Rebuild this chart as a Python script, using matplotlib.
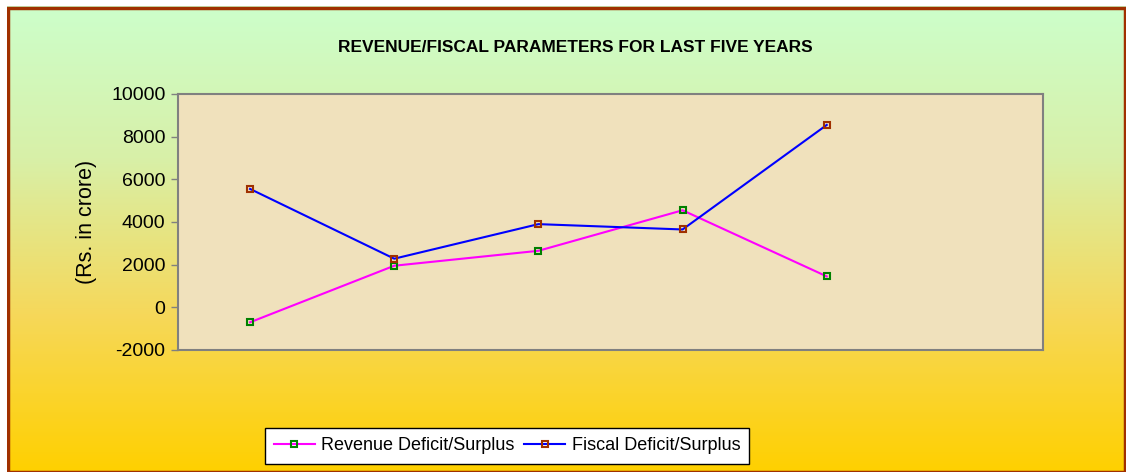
import matplotlib
matplotlib.use("Agg")
import matplotlib.pyplot as plt
import numpy as np
from matplotlib.colors import LinearSegmentedColormap
from matplotlib.patches import Rectangle

# Daten
jahre = ["", "", "", "", "", ""]
revenue = [-700, 1950, 2650, 4550, 1450]
fiscal = [5550, 2280, 3900, 3650, 8550]
y_ticks = [-2000, 0, 2000, 4000, 6000, 8000, 10000]

plt.rcParams['font.family'] = ['Liberation Sans', 'DejaVu Sans']

fig = plt.figure(figsize=(11.3, 4.72), dpi=100)

# Hintergrund mit Verlauf (gruen -> gelb)
bg = fig.add_axes([0, 0, 1, 1], zorder=-10)
verlauf = LinearSegmentedColormap.from_list("v", ["#CCFFCC", "#D8F0A8", "#F6D85A", "#FFD000"])
bg.imshow(np.linspace(0, 1, 256).reshape(-1, 1), aspect='auto', cmap=verlauf,
          extent=[0, 1, 0, 1], origin='upper')
bg.set_xlim(0, 1)
bg.set_ylim(0, 1)
bg.axis('off')
fig.patches.append(Rectangle((8 / 1130, 0.0), 1 - 13 / 1130, 1 - 8 / 472,
                             transform=fig.transFigure, fill=False,
                             edgecolor='#A03000', linewidth=2.5))
# weisser Rand oben/links/rechts
fig.patches.append(Rectangle((0, 0), 7 / 1130, 1, transform=fig.transFigure,
                             facecolor='white', edgecolor='none', zorder=5))
fig.patches.append(Rectangle((0, 1 - 6 / 472), 1, 6 / 472, transform=fig.transFigure,
                             facecolor='white', edgecolor='none', zorder=5))
fig.patches.append(Rectangle((1 - 4 / 1130, 0), 4 / 1130, 1, transform=fig.transFigure,
                             facecolor='white', edgecolor='none', zorder=5))

ax = fig.add_axes([178 / 1130, 1 - 350 / 472, (1043 - 178) / 1130, (350 - 94) / 472])
ax.set_facecolor('#F0E1BC')

x = np.arange(len(revenue))
ax.plot(x, revenue, color='#FF00FF', linewidth=1.5, marker='s', markersize=5,
        markerfacecolor='none', markeredgecolor='#008000', markeredgewidth=1.5,
        label='Revenue Deficit/Surplus')
ax.plot(x, fiscal, color='#0000FF', linewidth=1.5, marker='s', markersize=5,
        markerfacecolor='none', markeredgecolor='#A03000', markeredgewidth=1.5,
        label='Fiscal Deficit/Surplus')

ax.set_xlim(-0.5, len(jahre) - 0.5)
ax.set_ylim(-2000, 10000)
ax.set_yticks(y_ticks)
ax.set_yticklabels([str(t) for t in y_ticks], fontsize=14)
ax.set_xticks([])
ax.tick_params(axis='y', length=5, color='#808080', width=1, pad=4)
for s in ax.spines.values():
    s.set_color('#808080')
    s.set_linewidth(1.5)

ax.set_ylabel('(Rs. in crore)', fontsize=15.5, labelpad=10)
fig.text(575 / 1130, 1 - 48 / 472, 'REVENUE/FISCAL PARAMETERS FOR LAST FIVE YEARS',
         ha='center', va='center', fontsize=12.5, fontweight='bold')

leg = fig.legend(loc='center', bbox_to_anchor=(507 / 1130, 1 - 446 / 472), ncol=2,
                 fontsize=13, frameon=True, fancybox=False, handlelength=2.3,
                 columnspacing=0.5, handletextpad=0.35, borderpad=0.5)
leg.get_frame().set_edgecolor('black')
leg.get_frame().set_facecolor('white')
leg.get_frame().set_alpha(1.0)
leg.get_frame().set_linewidth(1.0)

plt.savefig('out.png', dpi=100)
